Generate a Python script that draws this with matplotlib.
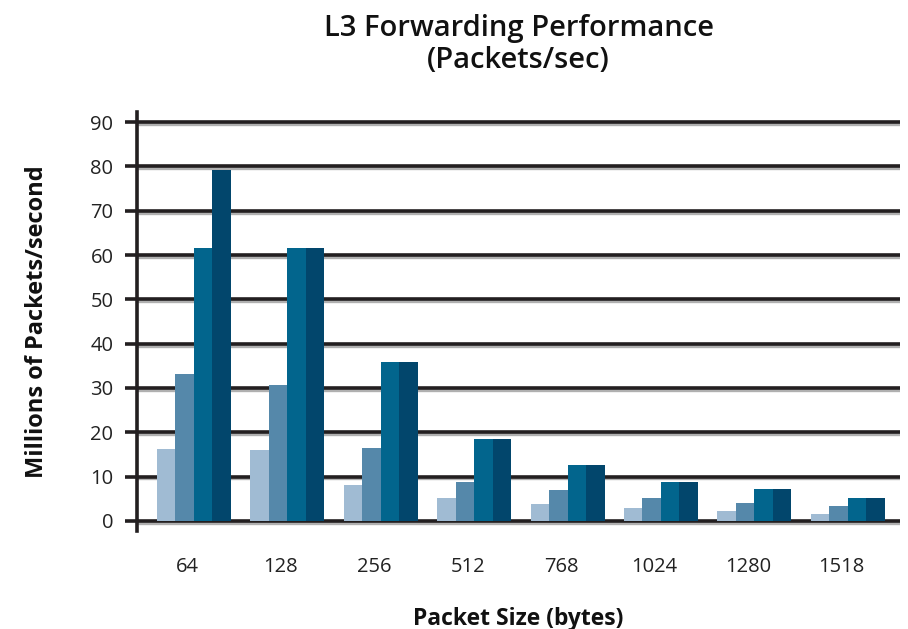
import numpy as np
import matplotlib
matplotlib.use("Agg")
import matplotlib.pyplot as plt
import matplotlib.patheffects as pe

# Packet sizes (bytes) and four configurations (Mpps)
packet_sizes = ["64", "128", "256", "512", "768", "1024", "1280", "1518"]
series_1 = [16.2, 16.1, 8.1, 5.2, 3.8, 2.9, 2.3, 1.6]
series_2 = [33.1, 30.6, 16.4, 8.8, 7.0, 5.2, 4.1, 3.4]
series_3 = [61.6, 61.6, 35.8, 18.4, 12.6, 8.8, 7.2, 5.2]
series_4 = [79.2, 61.6, 35.8, 18.4, 12.6, 8.8, 7.2, 5.2]
series = [series_1, series_2, series_3, series_4]
colors = ["#a0bbd3", "#5588aa", "#02658d", "#02466c"]
dark = "#231f20"

plt.rcParams["font.family"] = ["Open Sans", "DejaVu Sans"]

fig = plt.figure(figsize=(9.08, 6.29), dpi=100)
ax = fig.add_axes([137 / 908, 1 - 531 / 629, (900 - 137) / 908, (531 - 112) / 629])

x = np.arange(len(packet_sizes))
w = 0.198
for i, (vals, c) in enumerate(zip(series, colors)):
    ax.bar(x + (i - 1.5) * w, vals, width=w, color=c, zorder=3, linewidth=0)

ax.set_ylim(-2.3, 92.3)
ax.set_xlim(-0.61, 7.56)
ax.set_yticks(range(0, 91, 10))
ax.set_xticks(x - 0.07)
ax.set_xticklabels(packet_sizes)

ax.yaxis.grid(True, color=dark, linewidth=2.6, zorder=1)
for line in ax.get_ygridlines():
    line.set_path_effects([
        pe.Stroke(offset=(0, -1.4), linewidth=2.4, foreground="#b0b0b0"),
        pe.Normal(),
    ])
ax.set_axisbelow(True)

for s in ["top", "right", "bottom"]:
    ax.spines[s].set_visible(False)
ax.spines["left"].set_color(dark)
ax.spines["left"].set_linewidth(2.6)
ax.spines["left"].set_zorder(4)

ax.tick_params(axis="y", length=9, width=2.6, color=dark, direction="out",
               labelsize=14.5, labelcolor="#222222", pad=8)
ax.tick_params(axis="x", length=0, labelsize=14.5, labelcolor="#222222", pad=19)

ax.set_ylabel("Millions of Packets/second", fontsize=17, fontweight="bold",
              color="#111111", labelpad=30)
ax.set_xlabel("Packet Size (bytes)", fontsize=16.5, fontweight="bold",
              color="#111111", labelpad=21)
ax.set_title("L3 Forwarding Performance\n(Packets/sec)", fontsize=21,
             fontweight="semibold", color="#111111", pad=32, linespacing=1.1)

fig.savefig("out.png", dpi=100)
